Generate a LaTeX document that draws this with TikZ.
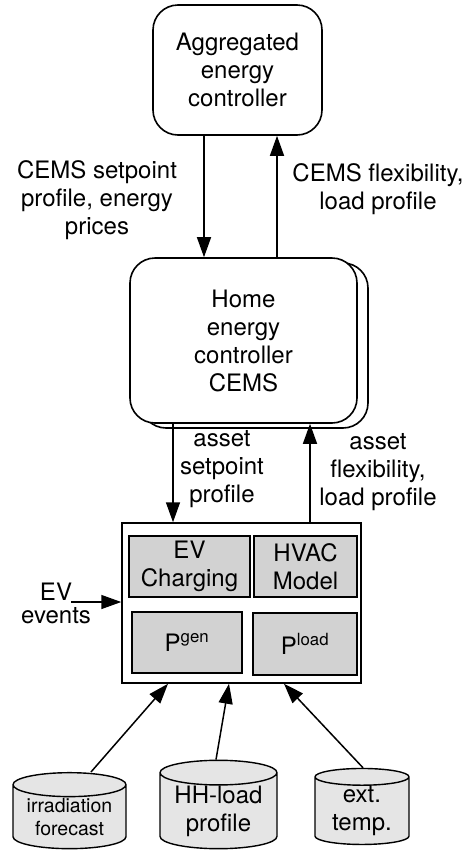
\documentclass[tikz,border=0pt]{standalone}
\usepackage{fontspec}
\setmainfont{TeX Gyre Heros}
\usepackage{tikz}
\usetikzlibrary{arrows.meta, positioning, shapes.geometric, shadows, calc}

\begin{document}
\begin{tikzpicture}[
    x=1pt, y=-1pt,
    font=\fontsize{24}{28}\selectfont,
    ctrlbox/.style={draw, line width=1.6pt, rounded corners=25pt, fill=white, align=center, inner sep=0pt},
    assetbox/.style={draw, line width=1.5pt, fill=gray!35, align=center, inner sep=0pt},
    datastore/.style={cylinder, shape border rotate=90, aspect=0.28, draw, line width=1.4pt, fill=gray!20, align=center, inner sep=0pt},
    lbl/.style={align=center, inner sep=0pt},
    arr/.style={line width=1.5pt, -{Triangle[length=20pt, width=14pt]}}
]
    \useasboundingbox (0,0) rectangle (465,857);

    % controllers
    \node[ctrlbox, minimum width=169pt, minimum height=130pt] (agg) at (237.5,70) {Aggregated\\energy\\controller};
    \node[ctrlbox, copy shadow={shadow xshift=11pt, shadow yshift=-5pt}, minimum width=227pt, minimum height=165pt] (cems) at (243.5,340.5) {Home\\energy\\controller\\CEMS};

    \draw[arr] ([xshift=-33.5pt]agg.south) -- ([xshift=-39.5pt]cems.north);
    \draw[arr] ([xshift=33.5pt]cems.north) -- ([xshift=39.5pt]agg.south);
    \node[lbl] (setp) at (97,200) {CEMS setpoint\\profile, energy\\prices};
    \node[lbl] (flex) at (378,189) {CEMS flexibility,\\load profile};

    % asset models
    \node[draw, line width=1.5pt, minimum width=239pt, minimum height=160pt] (assets) at (241.5,603) {};
    \node[assetbox, minimum width=121pt, minimum height=61pt] (evc) at (189.5,566.5) {EV\\Charging};
    \node[assetbox, minimum width=103pt, minimum height=61pt] (hvac) at (305.5,566.5) {HVAC\\Model};
    \node[assetbox, minimum width=110pt, minimum height=61pt] (pgen) at (187,642.5) {P\textsuperscript{gen}};
    \node[assetbox, minimum width=104pt, minimum height=62pt] (pload) at (305,644) {P\textsuperscript{load}};

    \draw[arr] ([xshift=-70.5pt]cems.south) -- ([xshift=-68.5pt]assets.north);
    \draw[arr] ([xshift=68.5pt]assets.north) -- ([xshift=66.5pt]cems.south);
    \node[lbl] (aset) at (222,469) {asset\\setpoint\\profile};
    \node[lbl] (aflex) at (378,472) {asset\\flexibility,\\load profile};

    \node[lbl] (ev) at (56,603) {EV\\[-5pt]events};
    \coordinate (evs) at (71,602);
    \draw[arr] (evs) -- (assets.west |- evs);

    % data sources
    \node[datastore, minimum width=113pt, minimum height=76pt, font=\fontsize{19.5}{23}\selectfont] (irr) at (69.5,817) {irradiation\\forecast};
    \node[datastore, minimum width=117pt, minimum height=75pt] (hh) at (218.5,811) {HH-load\\profile};
    \node[datastore, minimum width=94pt, minimum height=76pt] (ext) at (362,811) {ext.\\temp.};

    \draw[arr] ([xshift=21.5pt]irr.north) -- ([xshift=-73.5pt]assets.south);
    \draw[arr] ([xshift=-2.5pt]hh.north) -- ([xshift=-12.5pt]assets.south);
    \draw[arr] ([xshift=1pt]ext.north) -- ([xshift=42.5pt]assets.south);
\end{tikzpicture}
\end{document}
